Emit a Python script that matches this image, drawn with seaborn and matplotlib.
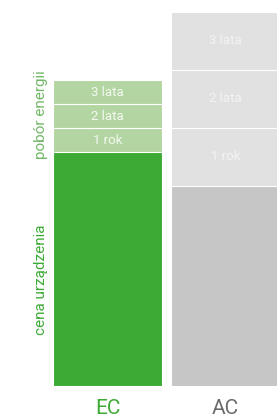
import matplotlib
matplotlib.use("Agg")
import matplotlib.pyplot as plt
import seaborn as sns
import pandas as pd
import numpy as np

categories = ["EC", "AC"]
device_price = [234, 200]        # "cena urządzenia" base part
energy_per_year = [24, 58]       # "pobór energii" per year
year_labels = ["1 rok", "2 lata", "3 lata"]

base_colors = ["#3daa35", "#c6c6c6"]
seg_colors = ["#b3d5a1", "#e1e1e1"]
seg_text_colors = ["#f4f8f2", "#f3f3f3"]
label_colors = ["#3daa35", "#6b6b6b"]

sns.set_theme(style="white")
plt.rcParams["font.family"] = ["Roboto", "DejaVu Sans"]

fig = plt.figure(figsize=(2.77, 4.16), dpi=100)
ax = fig.add_axes([0, 0, 1, 1])

df = pd.DataFrame({"cat": categories,
                   "base": device_price,
                   "seg": energy_per_year})

n_years = len(year_labels)
width = 0.924
# draw cumulative layers from top to bottom
for k in range(n_years, -1, -1):
    df["cum"] = df["base"] + k * df["seg"]
    pal = seg_colors if k > 0 else base_colors
    sns.barplot(data=df, x="cat", y="cum", hue="cat", palette=pal,
                dodge=False, width=width, errorbar=None, legend=False,
                saturation=1, edgecolor="white", linewidth=0.8, ax=ax)

# segment labels
for i in range(len(categories)):
    for k, lab in enumerate(year_labels):
        yc = device_price[i] + (k + 0.5) * energy_per_year[i]
        ax.text(i, yc, lab, ha="center", va="center", fontsize=9.5,
                color=seg_text_colors[i])

# category labels
for i, c in enumerate(categories):
    ax.text(i, -28.5, c, ha="center", va="baseline", fontsize=15,
            color=label_colors[i])

# side labels
ax.text(-0.56, device_price[0] / 2 - 11, "cena urządzenia", rotation=90,
        ha="center", va="center", fontsize=11, color="#3daa35")
ax.text(-0.56, device_price[0] + n_years * energy_per_year[0] / 2 + 1,
        "pobór energii", rotation=90, ha="center", va="center",
        fontsize=11, color="#72b867")

ax.set_xlim(-0.911, 1.436)
ax.set_ylim(-30, 386)
ax.set_axis_off()

fig.savefig("out.png", dpi=100)
